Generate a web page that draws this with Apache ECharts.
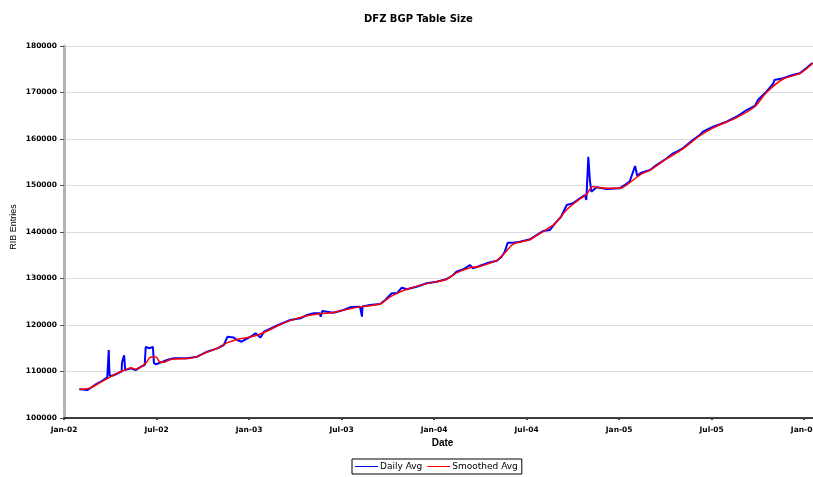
<!DOCTYPE html>
<html>
<head>
<meta charset="utf-8">
<script src="https://cdn.jsdelivr.net/npm/echarts@6/dist/echarts.min.js"></script>
<style>html,body{margin:0;padding:0;background:#fff}#c{width:813px;height:477px}</style>
</head>
<body>
<div id="c"></div>
<script>
var dailyDates = ['2002-02-01','2002-02-16','2002-03-01','2002-03-13','2002-03-26','2002-03-28','2002-03-29','2002-03-30','2002-03-31','2002-04-09','2002-04-18','2002-04-23','2002-04-24','2002-04-26','2002-04-28','2002-04-30','2002-05-01','2002-05-11','2002-05-21','2002-06-01','2002-06-08','2002-06-10','2002-06-17','2002-06-24','2002-06-26','2002-06-30','2002-07-09','2002-07-22','2002-08-05','2002-09-01','2002-09-03','2002-09-20','2002-10-10','2002-10-30','2002-11-12','2002-11-19','2002-12-01','2002-12-08','2002-12-17','2003-01-04','2003-01-14','2003-01-24','2003-01-31','2003-02-26','2003-03-22','2003-04-11','2003-04-24','2003-05-07','2003-05-19','2003-05-21','2003-05-24','2003-06-15','2003-07-05','2003-07-18','2003-08-07','2003-08-11','2003-08-12','2003-08-27','2003-09-16','2003-09-26','2003-10-02','2003-10-09','2003-10-19','2003-10-29','2003-11-08','2003-11-27','2003-12-17','2004-01-06','2004-01-25','2004-02-08','2004-02-14','2004-02-27','2004-03-11','2004-03-17','2004-03-30','2004-04-13','2004-05-03','2004-05-12','2004-05-19','2004-05-25','2004-06-05','2004-06-18','2004-07-08','2004-07-21','2004-08-03','2004-08-17','2004-08-27','2004-09-08','2004-09-19','2004-10-01','2004-10-15','2004-10-25','2004-10-28','2004-11-01','2004-11-02','2004-11-04','2004-11-07','2004-11-17','2004-12-07','2004-12-09','2005-01-02','2005-01-12','2005-01-22','2005-02-02','2005-02-04','2005-02-06','2005-02-11','2005-03-01','2005-03-14','2005-04-03','2005-04-16','2005-04-23','2005-05-05','2005-05-25','2005-06-08','2005-06-14','2005-07-04','2005-07-31','2005-08-20','2005-09-09','2005-09-25','2005-10-01','2005-10-18','2005-11-01','2005-11-03','2005-11-20','2005-12-09','2005-12-23','2006-01-05','2006-01-15','2006-01-18'];
var dailyValues = [106170,106020,107100,107800,108750,108900,114600,110500,109000,109250,109750,110000,112000,112800,113500,110300,110300,110680,110300,111030,111400,115300,115000,115300,111800,111550,111900,112470,112830,112830,112400,113180,114260,114980,115700,117480,117300,116770,116400,117480,118210,117300,118560,120000,121080,121440,122150,122510,122510,121790,123000,122650,123230,123800,123940,121790,124000,124300,124520,125380,126090,126810,126810,128020,127680,128240,128970,129310,129830,130750,131460,131980,132900,132190,132690,133260,133830,134560,135770,137700,137700,137920,138430,139350,140200,140430,141860,143290,145800,146170,147240,147960,146880,156190,156190,151180,148670,149610,149250,148900,149390,150110,150820,154190,154190,152000,152620,153330,154410,155800,156920,157300,158000,159780,160860,161570,162640,163720,164790,166230,167100,168390,170170,171970,172690,173050,173760,174120,175200,176130,176340];

var smoothDates = ['2002-02-01','2002-02-16','2002-03-13','2002-04-09','2002-04-18','2002-05-04','2002-05-11','2002-05-21','2002-06-01','2002-06-10','2002-06-20','2002-06-30','2002-07-07','2002-07-15','2002-07-29','2002-09-01','2002-09-20','2002-10-10','2002-10-30','2002-11-19','2002-12-08','2003-01-04','2003-01-31','2003-02-26','2003-03-22','2003-04-24','2003-05-19','2003-06-15','2003-07-05','2003-08-07','2003-09-16','2003-10-02','2003-10-19','2003-11-08','2003-12-17','2004-01-25','2004-02-14','2004-03-11','2004-03-30','2004-05-03','2004-05-19','2004-06-05','2004-07-08','2004-08-03','2004-08-27','2004-09-19','2004-10-15','2004-10-28','2004-11-04','2004-11-10','2004-11-17','2004-12-07','2005-01-02','2005-01-22','2005-02-11','2005-03-01','2005-04-03','2005-05-05','2005-06-08','2005-07-04','2005-08-20','2005-09-25','2005-10-18','2005-11-20','2005-12-23','2006-01-18'];
var smoothValues = [106200,106300,107700,109300,109800,110500,110800,110500,111000,111800,113100,113100,112100,112000,112600,112800,113200,114200,115000,116200,116900,117400,118400,119900,121000,122000,122400,122700,123200,123900,124500,125800,126800,127700,128900,129800,131200,132300,132600,133900,135500,137400,138400,140100,141800,144800,147100,148000,149200,149800,149600,149400,149400,150600,152300,153300,155700,157900,160700,162400,164600,167000,170000,172900,174100,176300];

var yTicks = ['100000','110000','120000','130000','140000','150000','160000','170000','180000'];
var xTickLabels = ['Jan-02','Jul-02','Jan-03','Jul-03','Jan-04','Jul-04','Jan-05','Jul-05','Jan-06'];

function toMonth(s) {
  var p = s.split('-');
  var y = +p[0], m = +p[1], d = +p[2];
  var dim = new Date(y, m, 0).getDate();
  return (y - 2002) * 12 + (m - 1) + (d - 1) / dim;
}
function pairs(dates, vals) {
  return dates.map(function (d, i) { return [toMonth(d), vals[i]]; });
}

var F = 'Liberation Sans, Arial, sans-serif';
var D = 'DejaVu Sans, sans-serif';
var chart = echarts.init(document.getElementById('c'));
chart.setOption({
  animation: false,
  backgroundColor: '#fff',
  title: {
    text: 'DFZ BGP Table Size', left: 359, top: 9,
    textStyle: { fontFamily: D, fontSize: 10, fontWeight: 'bold', color: '#000' }
  },
  legend: {
    left: 352, top: 459, padding: [3, 4, 3, 3], itemGap: 5,
    itemWidth: 23, itemHeight: 1, icon: 'rect',
    borderColor: '#000', borderWidth: 1, borderRadius: 0,
    textStyle: { fontFamily: D, fontSize: 9, color: '#000', padding: [0, 0, 0, -3] },
    data: ['Daily Avg', 'Smoothed Avg']
  },
  grid: { left: 64, right: 0, top: 46, bottom: 59, containLabel: false, outerBoundsMode: 'none' },
  xAxis: {
    type: 'value', min: 0, max: 48.57, interval: 6,
    name: 'Date', nameLocation: 'middle', nameGap: 20, nameMoveOverlap: false,
    nameTextStyle: { fontFamily: F, fontSize: 10, fontWeight: 'bold', color: '#000', padding: [0, 0, 0, 8] },
    axisLine: { lineStyle: { color: '#000', width: 1.5 } },
    axisTick: { show: true, length: 2, lineStyle: { color: '#444', width: 2 } },
    axisLabel: {
      fontFamily: D, fontSize: 7.5, fontWeight: 'bold', color: '#000', margin: 8,
      showMaxLabel: false,
      formatter: function (v) { var i = Math.round(v / 6); return xTickLabels[i] || ''; }
    },
    splitLine: { show: false }
  },
  yAxis: {
    type: 'value', min: 100000, max: 180000, interval: 10000,
    name: 'RIB Entries', nameLocation: 'middle', nameGap: 46, nameRotate: 90, nameMoveOverlap: false,
    nameTextStyle: { fontFamily: F, fontSize: 9, color: '#000', padding: [0, 0, 0, 10] },
    axisLine: { show: true, lineStyle: { color: '#b4b4b4', width: 3 } },
    axisTick: { show: true, length: 4, lineStyle: { color: '#555' } },
    axisLabel: {
      fontFamily: D, fontSize: 7.5, fontWeight: 'bold', color: '#000', margin: 7,
      formatter: function (v) { return yTicks[Math.round((v - 100000) / 10000)]; }
    },
    splitLine: { show: true, lineStyle: { color: '#dcdcdc', width: 1 } }
  },
  series: [
    {
      name: 'Daily Avg', type: 'line', showSymbol: false, symbol: 'none',
      color: '#0000ff', lineStyle: { color: '#0000ff', width: 2 },
      data: pairs(dailyDates, dailyValues), z: 2
    },
    {
      name: 'Smoothed Avg', type: 'line', showSymbol: false, symbol: 'none', smooth: 0.3,
      color: '#ff0000', lineStyle: { color: '#ff0000', width: 1.5 },
      data: pairs(smoothDates, smoothValues), z: 3
    }
  ]
});
</script>
</body>
</html>
